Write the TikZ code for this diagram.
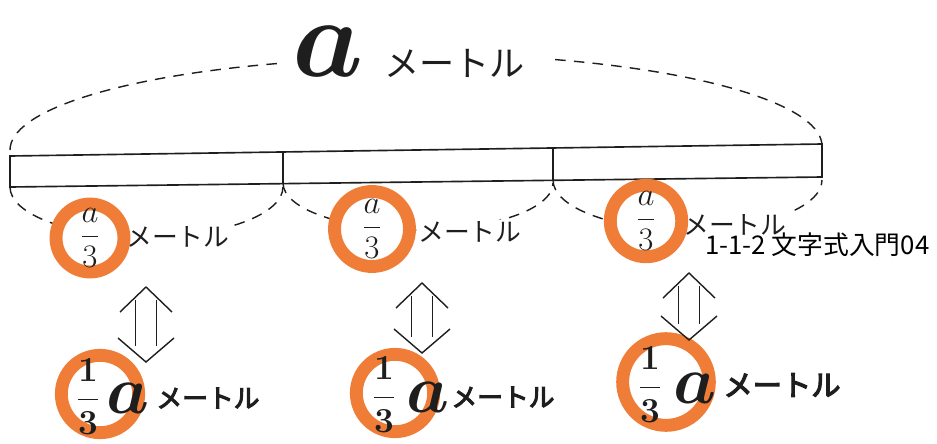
\RequirePackage{fix-cm}
\documentclass[tikz,border=0pt]{standalone}
\usepackage{amsmath}
\usepackage{fontspec}
\newfontfamily\jp{Noto Sans CJK JP}
\newfontfamily\jpbold{Noto Sans CJK JP}[FakeBold=4]
\usetikzlibrary{arrows.meta}
\definecolor{markorange}{RGB}{240,125,55}
\definecolor{pen}{RGB}{30,30,30}
\tikzset{
  barline/.style={line width=1.4pt, draw=pen},
  dashline/.style={line width=1.2pt, draw=pen, dash pattern=on 9pt off 7pt},
  ring/.style={circle, draw=markorange, line width=11pt, fill=white, inner sep=0pt, text=pen},
  unit/.style={font=\jp\fontsize{22}{22}\selectfont, anchor=west, fill=white, inner sep=1pt, text=pen},
  boldunit/.style={font=\jpbold\fontsize{#1}{#1}\selectfont, anchor=west, inner sep=1pt, text=pen},
  boldunit/.default=22,
  part/.style={font=\fontsize{28}{28}\selectfont},
  onethird/.style={font=\fontsize{30}{30}\selectfont\boldmath, inner sep=0pt, text=pen},
  bigA/.style={font=\fontsize{58}{58}\selectfont\boldmath, inner sep=0pt, text=pen},
  shaft/.style={draw=pen, line width=1.2pt, double distance=17pt, shorten <=11pt, shorten >=14pt},
  chevron/.style={draw=pen, line width=1.2pt, line join=miter},
}
\begin{document}
\begin{tikzpicture}[x=0.03cm, y=-0.03cm]
    \useasboundingbox (0,0) rectangle (937,443);
    % big dashed brace over the bar
    \draw[dashline] (10,150) arc[start angle=180, end angle=250, x radius=406, y radius=92];
    \draw[dashline] (822,146) arc[start angle=360, end angle=290, x radius=406, y radius=92];
    % small dashed braces under the three parts
    \draw[dashline] (10,187) arc[start angle=180, end angle=0, x radius=136.5, y radius=50];
    \draw[dashline] (283,183) arc[start angle=180, end angle=0, x radius=135, y radius=47];
    \draw[dashline] (553,180) arc[start angle=180, end angle=0, x radius=134.5, y radius=50];
    % the bar, cut in three
    \draw[barline] (10,156) -- (822,144) -- (822,177) -- (10,187) -- cycle;
    \draw[barline] (283,152) -- (283,183);
    \draw[barline] (553,148) -- (553,180);
    % whole length
    \node[bigA, font=\fontsize{96}{96}\selectfont\boldmath] (ta) at (328,52) {$a$};
    \node[unit, font=\jp\fontsize{30}{30}\selectfont, fill=none] (tu) at (383,63) {メートル};
    % one part each
    \node[unit] (ua1) at (125,237) {メートル};
    \node[unit] (ua2) at (417,232) {メートル};
    \node[unit] (ua3) at (682,225) {メートル};
    \node[ring, minimum size=58pt, part] (ra1) at (90,238) {$\dfrac{a}{3}$};
    \node[ring, minimum size=64pt, part] (ra2) at (372,229) {$\dfrac{a}{3}$};
    \node[ring, minimum size=61pt, part] (ra3) at (646,221) {$\dfrac{a}{3}$};
    \node[font=\jp\fontsize{22}{22}\selectfont, anchor=west, inner sep=0pt] (tag) at (705,245) {1-1-2 文字式入門04};
    % same, written as 1/3 a
    \node[ring, minimum size=66pt] (rb1) at (100,394) {};
    \node[ring, minimum size=66pt] (rb2) at (395,393) {};
    \node[ring, minimum size=74pt] (rb3) at (666,382) {};
    \node[onethird] (fb1) at (88,397) {$\dfrac{1}{3}$};
    \node[onethird] (fb2) at (384,395) {$\dfrac{1}{3}$};
    \node[onethird] (fb3) at (650,385) {$\dfrac{1}{3}$};
    \node[bigA] (ab1) at (128,398) {$a$};
    \node[bigA] (ab2) at (428,397) {$a$};
    \node[bigA] (ab3) at (695,388) {$a$};
    \node[boldunit] (ub1) at (155,398) {メートル};
    \node[boldunit] (ub2) at (450,397) {メートル};
    \node[boldunit=25] (ub3) at (722,385) {メートル};
    % equivalence arrows
    \coordinate (up1) at (146,287);
    \coordinate (dn1) at (146,362);
    \coordinate (up2) at (422,283);
    \coordinate (dn2) at (422,353);
    \coordinate (up3) at (689,273);
    \coordinate (dn3) at (689,340);
    \foreach \i in {1,2,3} {
      \draw[shaft] (up\i) -- (dn\i);
      \draw[chevron] (up\i) ++(-26,25) -- (up\i) -- ++(26,25);
      \draw[chevron] (dn\i) ++(-28,-24) -- (dn\i) -- ++(28,-24);
    }
\end{tikzpicture}
\end{document}
